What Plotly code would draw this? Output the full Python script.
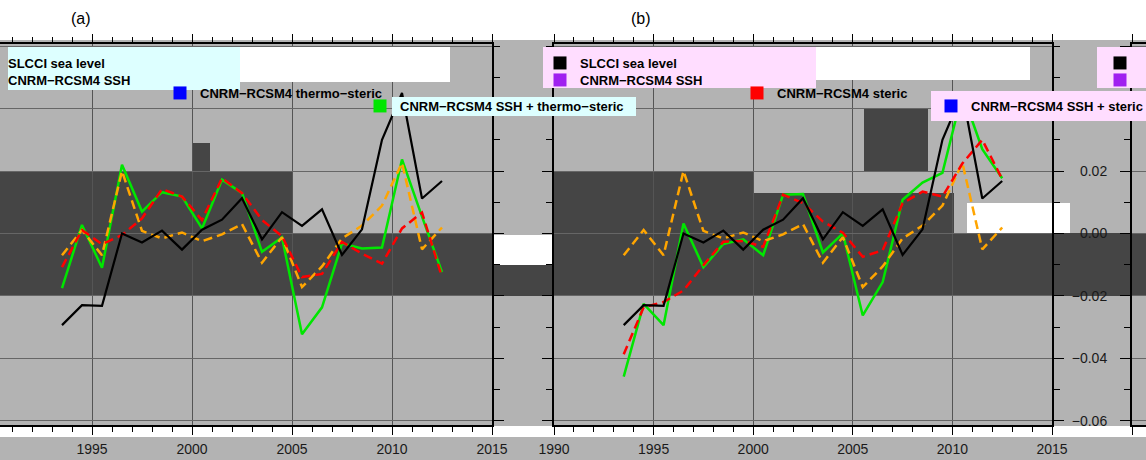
import plotly.graph_objects as go

W, H = 1146, 460
FONT = "Liberation Sans, Arial, Helvetica, sans-serif"

# ---------------- data (annual means) ----------------
years = [1993.5, 1994.5, 1995.5, 1996.5, 1997.5, 1998.5, 1999.5, 2000.5, 2001.5, 2002.5,
         2003.5, 2004.5, 2005.5, 2006.5, 2007.5, 2008.5, 2009.5, 2010.5, 2011.5, 2012.5]

slcci_sea_level = [-0.0294, -0.0230, -0.0232, 0.0000, -0.0029, 0.0009, -0.0052, 0.0012, 0.0044, 0.0113,
                   -0.0019, 0.0068, 0.0024, 0.0077, -0.0069, 0.0013, 0.0300, 0.0450, 0.0112, 0.0168]

cnrm_ssh = [-0.0070, 0.0011, -0.0070, 0.0200, 0.0008, -0.0016, 0.0003, -0.0025, -0.0003, 0.0030,
            -0.0094, -0.0012, -0.0172, -0.0106, -0.0016, 0.0025, 0.0089, 0.0226, -0.0051, 0.0019]

cnrm_thermo_steric = [-0.0108, 0.0011, -0.0035, -0.0005, 0.0048, 0.0142, 0.0118, 0.0043, 0.0177, 0.0129,
                      0.0043, -0.0009, -0.0140, -0.0130, -0.0027, -0.0065, -0.0097, 0.0016, 0.0067, -0.0140]

cnrm_ssh_thermo = [-0.0175, 0.0027, -0.0110, 0.0220, 0.0070, 0.0132, 0.0118, 0.0016, 0.0172, 0.0129,
                   -0.0059, -0.0013, -0.0323, -0.0237, -0.0032, -0.0048, -0.0045, 0.0237, 0.0054, -0.0124]

cnrm_steric = [-0.0387, -0.0237, -0.0220, -0.0183, -0.0102, -0.0027, -0.0024, -0.0043, 0.0124, 0.0097,
               0.0038, 0.0002, -0.0075, -0.0054, 0.0097, 0.0134, 0.0118, 0.0224, 0.0300, 0.0174]

cnrm_ssh_steric = [-0.0459, -0.0226, -0.0294, 0.0032, -0.0108, -0.0034, -0.0019, -0.0070, 0.0124, 0.0126,
                   -0.0061, 0.0000, -0.0263, -0.0156, 0.0108, 0.0163, 0.0194, 0.0450, 0.0270, 0.0177]

x_ticks = [1990, 1995, 2000, 2005, 2010, 2015]
y_ticks = [-0.06, -0.04, -0.02, 0.00, 0.02, 0.04, 0.06]
y_tick_text = ["\u22120.06", "\u22120.04", "\u22120.02", "0.00", "0.02", "", ""]

labels_a = ["SLCCI sea level", "CNRM\u2212RCSM4 SSH", "CNRM\u2212RCSM4 thermo\u2212steric",
            "CNRM\u2212RCSM4 SSH + thermo\u2212steric"]
labels_b = ["SLCCI sea level", "CNRM\u2212RCSM4 SSH", "CNRM\u2212RCSM4 steric",
            "CNRM\u2212RCSM4 SSH + steric"]
panel_titles = ["(a)", "(b)"]

# ---------------- helpers ----------------
def fx(px):
    return px / W

def fy(py):
    return 1 - py / H

BLACK, PURPLE, BLUE, RED, ORANGE, GREEN = "#000000", "#A020F0", "#0000FF", "#FF0000", "#FFA500", "#00E600"

fig = go.Figure()

def add_lines(xa, ya, ssh_plus, steric_like):
    fig.add_trace(go.Scatter(x=years, y=ssh_plus, mode="lines", xaxis=xa, yaxis=ya,
                             line=dict(color=GREEN, width=2.5), showlegend=False))
    fig.add_trace(go.Scatter(x=years, y=cnrm_ssh, mode="lines", xaxis=xa, yaxis=ya,
                             line=dict(color=ORANGE, width=2.5, dash="9px,5px"), showlegend=False))
    fig.add_trace(go.Scatter(x=years, y=steric_like, mode="lines", xaxis=xa, yaxis=ya,
                             line=dict(color=RED, width=2.5, dash="9px,5px"), showlegend=False))
    fig.add_trace(go.Scatter(x=years, y=slcci_sea_level, mode="lines", xaxis=xa, yaxis=ya,
                             line=dict(color=BLACK, width=2.2), showlegend=False))

add_lines("x", "y", cnrm_ssh_thermo, cnrm_thermo_steric)
add_lines("x2", "y2", cnrm_ssh_steric, cnrm_steric)

# legend keys (one small legend per key, placed as in the picture)
key_specs = [
    ("legend",   labels_a[0], BLACK,  8,    63, "x",  "y",  None),
    ("legend2",  labels_a[1], PURPLE, 8,    80, "x",  "y",  None),
    ("legend3",  labels_a[2], BLUE,   200,  93, "x",  "y",  None),
    ("legend4",  labels_a[3], GREEN,  400, 106, "x",  "y",  None),
    ("legend5",  labels_b[0], BLACK,  580,  63, "x2", "y2", None),
    ("legend6",  labels_b[1], PURPLE, 580,  80, "x2", "y2", None),
    ("legend7",  labels_b[2], RED,    777,  93, "x2", "y2", None),
    ("legend8",  labels_b[3], BLUE,   971, 106, "x2", "y2", "#FFDDFF"),
    ("legend9",  "",          BLACK,  1140, 63, "x3", "y3", None),
    ("legend10", "",          PURPLE, 1140, 80, "x3", "y3", None),
]
legend_layouts = {}
for lid, name, col, tx, cy, xa, ya, bg in key_specs:
    fig.add_trace(go.Scatter(x=[None], y=[None], mode="markers", name=name, legend=lid,
                             xaxis=xa, yaxis=ya, showlegend=True,
                             marker=dict(symbol="square", size=13, color=col, line=dict(width=0))))
    legend_layouts[lid] = dict(x=fx(tx - 40), y=fy(cy), xanchor="left", yanchor="middle",
                               orientation="h", bgcolor=bg or "rgba(0,0,0,0)", borderwidth=0,
                               font=dict(family=FONT, size=13, color="black", weight="bold"))

# ---------------- axes ----------------
Y_RANGE = [-0.0614, 0.0607]
Y_DOM = [fy(425), fy(44)]

def xaxis(dom, rng):
    return dict(domain=dom, range=rng, tickvals=x_ticks, ticktext=[str(v) for v in x_ticks],
                showline=True, linecolor="black", linewidth=2, mirror="allticks",
                ticks="outside", ticklen=8, tickwidth=1, tickcolor="black",
                showgrid=True, gridcolor="#555555", gridwidth=1, zeroline=False,
                showticklabels=True, ticklabelstandoff=2,
                minor=dict(tick0=1990, dtick=1, ticks="outside", ticklen=5, tickcolor="black", showgrid=False),
                tickfont=dict(family=FONT, size=14, color="#1a1a1a"), fixedrange=True)

def yaxis(anchor, show_labels):
    return dict(domain=Y_DOM, range=Y_RANGE, anchor=anchor, tickvals=y_ticks, ticktext=y_tick_text,
                showline=True, linecolor="black", linewidth=2, mirror="allticks",
                ticks="outside", ticklen=10, tickwidth=1, tickcolor="black",
                showgrid=True, gridcolor="#666666", gridwidth=1, zeroline=False,
                showticklabels=show_labels, ticklabelstandoff=10,
                minor=dict(tick0=0, dtick=0.01, ticks="outside", ticklen=6, tickcolor="black", showgrid=False),
                tickfont=dict(family=FONT, size=14, color="#1a1a1a"), fixedrange=True)

# ---------------- decorative background blocks (pixel boxes) ----------------
DARK, WHITE, CYAN, PINK = "#454545", "#FFFFFF", "#DDFFFF", "#FFDDFF"
below_boxes = [
    (0, 0, 1146, 40, WHITE),
    (0, 426, 1146, 437, WHITE),
    (0, 172, 292, 296, DARK), (292, 233, 492, 296, DARK), (192, 143, 210, 172, DARK),
    (492, 235, 554, 265, WHITE), (492, 265, 554, 296, DARK),
    (554, 172, 754, 296, DARK), (754, 193, 954, 296, DARK), (954, 233, 1146, 296, DARK),
    (967, 203, 1070, 233, WHITE), (864, 108, 928, 172, DARK),
]
above_boxes = [
    (8, 47, 240, 90, CYAN), (240, 47, 450, 82, WHITE), (392, 97, 636, 116, CYAN),
    (543, 47, 816, 88, PINK), (816, 47, 1030, 80, WHITE), (935, 97, 1146, 116, PINK),
    (1097, 47, 1146, 88, PINK),
]
shapes = []
for (x0, y0, x1, y1, c) in below_boxes:
    shapes.append(dict(type="rect", xref="paper", yref="paper", x0=fx(x0), x1=fx(x1), y0=fy(y1), y1=fy(y0),
                       fillcolor=c, line=dict(width=0), layer="below"))
for (x0, y0, x1, y1, c) in above_boxes:
    shapes.append(dict(type="rect", xref="paper", yref="paper", x0=fx(x0), x1=fx(x1), y0=fy(y1), y1=fy(y0),
                       fillcolor=c, line=dict(width=0), layer="above"))

annotations = [
    dict(text=panel_titles[0], x=fx(81), y=fy(18), xref="paper", yref="paper", showarrow=False,
         xanchor="center", yanchor="middle", font=dict(family=FONT, size=16, color="black")),
    dict(text=panel_titles[1], x=fx(641), y=fy(18), xref="paper", yref="paper", showarrow=False,
         xanchor="center", yanchor="middle", font=dict(family=FONT, size=16, color="black")),
]

layout = dict(
    width=W, height=H,
    margin=dict(l=0, r=0, t=0, b=0, pad=0, autoexpand=False),
    paper_bgcolor="#B3B3B3", plot_bgcolor="#B3B3B3",
    xaxis=xaxis([0, fx(492)], [1990.4, 2015]),
    yaxis=yaxis("x", False),
    xaxis2=xaxis([fx(554), fx(1052)], [1990, 2015]),
    yaxis2=yaxis("x2", False),
    xaxis3=xaxis([fx(1132), 1.0], [1990, 1990.7]),
    yaxis3=yaxis("x3", True),
    shapes=shapes, annotations=annotations,
    font=dict(family=FONT, size=14, color="black"),
    hovermode=False,
)
layout["xaxis"]["anchor"] = "y"
layout["xaxis2"]["anchor"] = "y2"
layout["xaxis3"]["anchor"] = "y3"
layout.update(legend_layouts)
fig.update_layout(**layout)

fig.write_html("out.html", config={"displayModeBar": False},
               post_script="document.body.style.margin='0px';document.body.style.overflow='hidden';")
